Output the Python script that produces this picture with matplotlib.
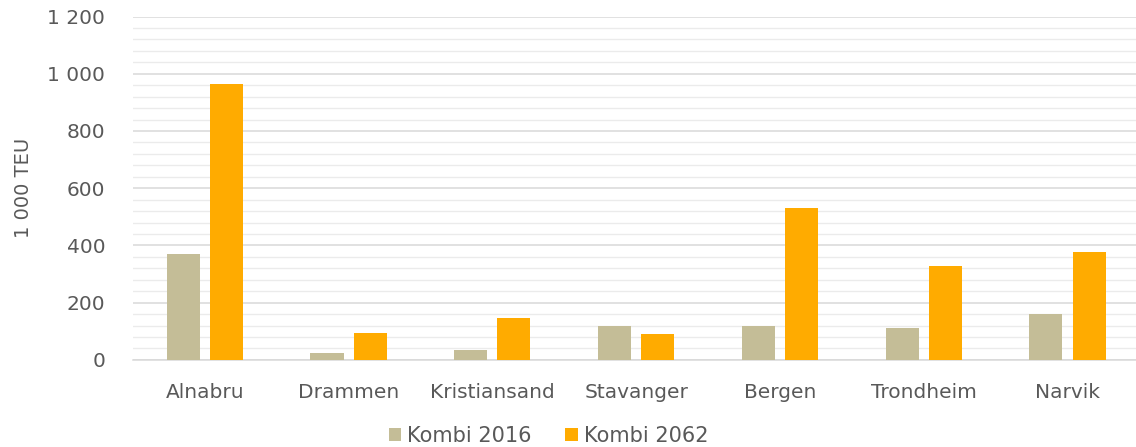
import numpy as np
import matplotlib.pyplot as plt
from matplotlib.ticker import MultipleLocator, FuncFormatter

terminals = ["Alnabru", "Drammen", "Kristiansand", "Stavanger", "Bergen", "Trondheim", "Narvik"]
kombi_2016 = [370, 25, 35, 117, 117, 111, 160]
kombi_2062 = [965, 95, 145, 89, 530, 327, 377]

TEXT = "#595959"
plt.rcParams["font.family"] = ["DejaVu Sans"]

fig = plt.figure(figsize=(11.36, 4.47), dpi=100)
ax = fig.add_axes([0.117, 0.195, 0.886, 0.768])

x = np.arange(len(terminals))
w = 0.23
ax.bar(x - 0.15, kombi_2016, width=w, color="#c4bd97", label="Kombi 2016", zorder=3)
ax.bar(x + 0.15, kombi_2062, width=w, color="#ffab00", label="Kombi 2062", zorder=3)

ax.set_ylim(0, 1200)
ax.set_xlim(-0.5, len(terminals) - 0.5)
ax.yaxis.set_major_locator(MultipleLocator(200))
ax.yaxis.set_minor_locator(MultipleLocator(40))
ax.yaxis.set_major_formatter(FuncFormatter(lambda v, _: f"{int(v):,}".replace(",", " ")))
ax.grid(axis="y", which="major", color="#d9d9d9", linewidth=1.1, zorder=0)
ax.grid(axis="y", which="minor", color="#ebebeb", linewidth=1.0, zorder=0)

for s in ["top", "right", "left"]:
    ax.spines[s].set_visible(False)
ax.spines["bottom"].set_color("#d9d9d9")
ax.spines["bottom"].set_linewidth(1.1)

ax.set_xticks(x)
ax.set_xticklabels(terminals)
ax.tick_params(axis="both", which="both", length=0, colors=TEXT, labelsize=14.5)
ax.tick_params(axis="x", pad=17)
ax.tick_params(axis="y", pad=20)
ax.set_ylabel("1 000 TEU", color=TEXT, fontsize=14, labelpad=10)

ax.legend(loc="center", bbox_to_anchor=(0.413, -0.222), ncol=2, frameon=False,
          fontsize=15, labelcolor=TEXT, handlelength=0.6, handleheight=0.6,
          handletextpad=0.3, columnspacing=1.6, borderpad=0.1)

fig.savefig("out.png", dpi=100)
